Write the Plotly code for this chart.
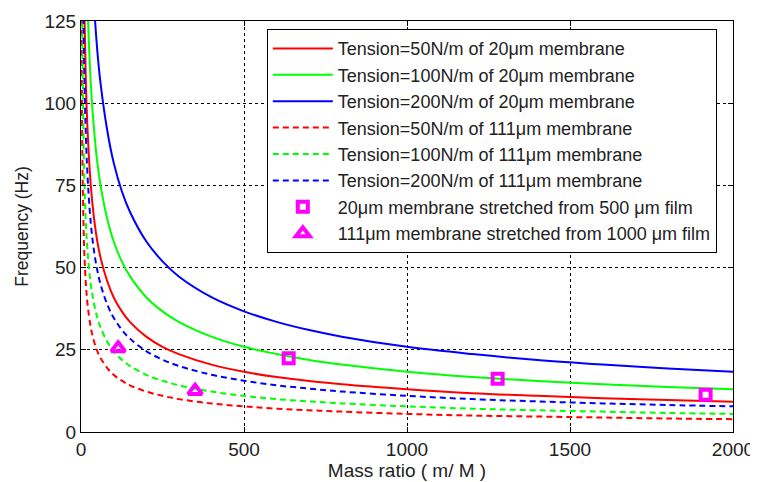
import plotly.graph_objects as go

# Mass ratio sample points
mass_ratio = [1, 2, 3, 5, 10, 15, 20, 30, 40, 50, 60, 80, 100, 125, 150, 200, 250, 300,
              400, 500, 600, 700, 800, 1000, 1200, 1400, 1600, 1800, 2000]

# Frequencies (Hz)
red_20 = [410, 290, 237, 183, 130, 106, 92, 75, 65, 58, 53, 46, 41, 36.7, 33.5, 29.0, 25.9, 23.7,
          20.5, 18.3, 16.7, 15.5, 14.5, 13.0, 11.8, 11.0, 10.3, 9.7, 9.2]
green_20 = [580, 410, 335, 259, 183, 150, 130, 106, 92, 82, 75, 65, 58, 51.9, 47.4, 41.0, 36.7, 33.5,
            29.0, 25.9, 23.7, 21.9, 20.5, 18.3, 16.7, 15.5, 14.5, 13.7, 13.0]
blue_20 = [820, 580, 473, 367, 259, 212, 183, 150, 130, 116, 106, 92, 82, 73.3, 67.0, 58.0, 51.9, 47.3,
           41.0, 36.7, 33.5, 31.0, 29.0, 25.9, 23.7, 21.9, 20.5, 19.3, 18.3]
red_111 = [174, 123, 100, 77.8, 55.0, 44.9, 38.9, 31.8, 27.5, 24.6, 22.5, 19.5, 17.4, 15.6, 14.2, 12.3,
           11.0, 10.0, 8.7, 7.8, 7.1, 6.6, 6.2, 5.5, 5.0, 4.7, 4.4, 4.1, 3.9]
green_111 = [246, 174, 142, 110, 78, 63.5, 55, 44.9, 38.9, 34.8, 31.8, 27.5, 24.6, 22.0, 20.1, 17.4,
             15.6, 14.2, 12.3, 11.0, 10.0, 9.3, 8.7, 7.8, 7.1, 6.6, 6.2, 5.8, 5.5]
blue_111 = [348, 246, 201, 156, 110, 90, 78, 63.5, 55, 49.2, 44.9, 38.9, 34.8, 31.1, 28.4, 24.6,
            22.0, 20.1, 17.4, 15.6, 14.2, 13.2, 12.3, 11.0, 10.0, 9.3, 8.7, 8.2, 7.8]

# Measured points
sq_x = [637, 1278, 1916]
sq_y = [22.4, 16.2, 11.3]
tri_x = [114, 350]
tri_y = [25.5, 12.5]

x_ticks = [0, 500, 1000, 1500, 2000]
y_ticks = [0, 25, 50, 75, 100, 125]

series = [
    ("Tension=50N/m of 20μm membrane", red_20, "#FF0000", "solid"),
    ("Tension=100N/m of 20μm membrane", green_20, "#00FF00", "solid"),
    ("Tension=200N/m of 20μm membrane", blue_20, "#0000FF", "solid"),
    ("Tension=50N/m of 111μm membrane", red_111, "#FF0000", "6px,4px"),
    ("Tension=100N/m of 111μm membrane", green_111, "#00FF00", "6px,4px"),
    ("Tension=200N/m of 111μm membrane", blue_111, "#0000FF", "6px,4px"),
]

FONT = "Liberation Sans, Arial"

fig = go.Figure()
for i, (name, ys, col, dash) in enumerate(series):
    fig.add_trace(go.Scatter(
        x=mass_ratio, y=ys, mode="lines", name=name,
        line=dict(color=col, width=2, dash=dash, shape="spline", smoothing=1.0),
    ))

fig.add_trace(go.Scatter(
    x=sq_x, y=sq_y, mode="markers", name="20μm membrane stretched from 500 μm film",
    marker=dict(symbol="square-open", size=10, color="#FF00FF", line=dict(width=4, color="#FF00FF")),
))
fig.add_trace(go.Scatter(
    x=tri_x, y=tri_y, mode="markers", name="111μm membrane stretched from 1000 μm film",
    marker=dict(symbol="triangle-up-open", size=12, color="#FF00FF", line=dict(width=4, color="#FF00FF")),
))

axis_common = dict(
    showline=True, linecolor="black", linewidth=1, mirror="ticks",
    ticks="inside", ticklen=5, tickcolor="black",
    showgrid=True, gridcolor="black", gridwidth=1, griddash="3px,3px",
    zeroline=False, automargin=False, tickfont=dict(family=FONT, size=19, color="#222"),
)

fig.update_layout(
    width=750, height=474,
    margin=dict(l=73, r=25, t=13, b=50),
    paper_bgcolor="white", plot_bgcolor="white",
    font=dict(family=FONT, size=18, color="#222"),
    xaxis=dict(range=[0, 2000], tickvals=x_ticks, title=dict(text="Mass ratio ( m/ M )", standoff=2,
               font=dict(size=19)), **axis_common),
    yaxis=dict(range=[0, 125], tickvals=y_ticks, title=dict(text="Frequency (Hz)", standoff=11,
               font=dict(size=17.5)), **axis_common),
    legend=dict(
        x=0.285, y=0.98, xanchor="left", yanchor="top",
        bgcolor="white", bordercolor="black", borderwidth=1,
        font=dict(family=FONT, size=18, color="#222"),
        itemwidth=60, tracegroupgap=0,
    ),
    showlegend=True,
)

fig.write_html("out.html")
